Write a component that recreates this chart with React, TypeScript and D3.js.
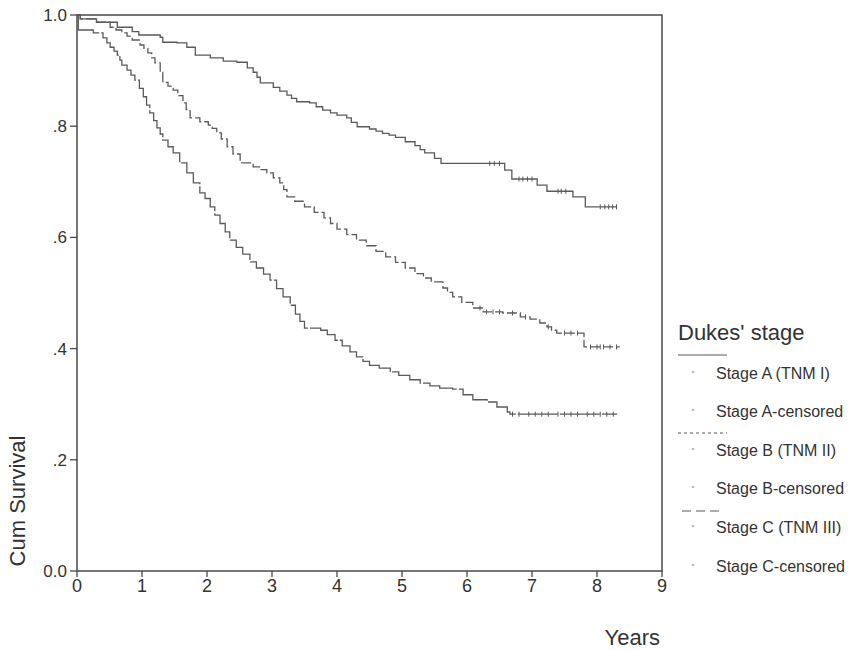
import React from "react";
import * as d3 from "d3";

// Years on the x axis, cumulative survival on the y axis
const xTicks = [0, 1, 2, 3, 4, 5, 6, 7, 8, 9];
const yTicks = [0, 0.2, 0.4, 0.6, 0.8, 1.0];
const yTickLabels = ["0.0", ".2", ".4", ".6", ".8", "1.0"];

// Step points [time, survival after the drop]
const stageA: [number, number][] = [
  [0, 1.0], [0.05, 0.993], [0.3, 0.987], [0.62, 0.978], [0.85, 0.970], [0.95, 0.964],
  [1.28, 0.960], [1.32, 0.951], [1.54, 0.950], [1.69, 0.942], [1.82, 0.928], [2.05, 0.923],
  [2.25, 0.917], [2.46, 0.915], [2.62, 0.905], [2.71, 0.897], [2.77, 0.888], [2.82, 0.878],
  [3.02, 0.870], [3.12, 0.863], [3.23, 0.856], [3.3, 0.850], [3.38, 0.844], [3.58, 0.842],
  [3.68, 0.835], [3.78, 0.829], [3.9, 0.824], [4.0, 0.820], [4.15, 0.815], [4.22, 0.807],
  [4.31, 0.799], [4.5, 0.795], [4.6, 0.791], [4.7, 0.787], [4.8, 0.784], [4.9, 0.780],
  [5.05, 0.772], [5.2, 0.765], [5.28, 0.758], [5.35, 0.752], [5.5, 0.742], [5.6, 0.733],
  [6.58, 0.721], [6.69, 0.705], [7.08, 0.694], [7.23, 0.683], [7.63, 0.673], [7.82, 0.655],
  [8.31, 0.655],
];
const stageB: [number, number][] = [
  [0, 1.0], [0.05, 0.993], [0.3, 0.987], [0.51, 0.978], [0.6, 0.973], [0.69, 0.968],
  [0.77, 0.962], [0.85, 0.955], [0.97, 0.946], [1.03, 0.940], [1.09, 0.932], [1.15, 0.923],
  [1.2, 0.914], [1.28, 0.897], [1.32, 0.879], [1.4, 0.872], [1.48, 0.865], [1.55, 0.855],
  [1.63, 0.842], [1.68, 0.830], [1.74, 0.815], [1.89, 0.808], [2.02, 0.802], [2.08, 0.796],
  [2.15, 0.788], [2.22, 0.777], [2.31, 0.763], [2.4, 0.750], [2.51, 0.734], [2.71, 0.727],
  [2.82, 0.722], [2.92, 0.716], [3.02, 0.707], [3.12, 0.698], [3.18, 0.686], [3.23, 0.673],
  [3.35, 0.665], [3.5, 0.655], [3.65, 0.645], [3.8, 0.635], [3.9, 0.625], [4.0, 0.615],
  [4.15, 0.605], [4.3, 0.595], [4.45, 0.585], [4.6, 0.575], [4.75, 0.565], [4.9, 0.555],
  [5.05, 0.545], [5.2, 0.535], [5.33, 0.527], [5.45, 0.520], [5.63, 0.509], [5.7, 0.501],
  [5.78, 0.493], [5.92, 0.483], [6.09, 0.473], [6.25, 0.466], [6.55, 0.464], [6.82, 0.457],
  [6.97, 0.453], [7.12, 0.446], [7.23, 0.439], [7.3, 0.433], [7.38, 0.428], [7.8, 0.403],
  [8.35, 0.403],
];
const stageC: [number, number][] = [
  [0, 1.0], [0.02, 0.973], [0.25, 0.968], [0.4, 0.959], [0.46, 0.950], [0.51, 0.942],
  [0.57, 0.935], [0.62, 0.928], [0.66, 0.919], [0.69, 0.910], [0.77, 0.901], [0.83, 0.892],
  [0.89, 0.883], [0.96, 0.868], [1.02, 0.853], [1.07, 0.838], [1.12, 0.824], [1.18, 0.810],
  [1.23, 0.797], [1.28, 0.786], [1.32, 0.775], [1.4, 0.763], [1.48, 0.752], [1.58, 0.734],
  [1.69, 0.716], [1.79, 0.698], [1.89, 0.680], [1.97, 0.670], [2.05, 0.655], [2.12, 0.640],
  [2.2, 0.625], [2.28, 0.610], [2.35, 0.595], [2.45, 0.582], [2.55, 0.570], [2.66, 0.556],
  [2.76, 0.545], [2.87, 0.534], [2.97, 0.523], [3.07, 0.508], [3.17, 0.493], [3.28, 0.478],
  [3.36, 0.462], [3.43, 0.449], [3.5, 0.437], [3.75, 0.433], [3.85, 0.425], [3.97, 0.415],
  [4.08, 0.405], [4.2, 0.394], [4.3, 0.385], [4.4, 0.377], [4.5, 0.370], [4.65, 0.365],
  [4.82, 0.358], [4.95, 0.352], [5.12, 0.344], [5.28, 0.338], [5.43, 0.333], [5.58, 0.329],
  [5.78, 0.327], [5.94, 0.317], [6.09, 0.308], [6.31, 0.304], [6.46, 0.295], [6.62, 0.286],
  [6.66, 0.282], [8.31, 0.282],
];

// Censoring times
const censorA = [6.35, 6.42, 6.5, 6.8, 6.86, 6.93, 7.0, 7.4, 7.45, 7.52, 8.05, 8.12, 8.18, 8.24, 8.3];
const censorB = [6.2, 6.3, 6.4, 6.5, 6.7, 6.9, 7.25, 7.5, 7.6, 7.7, 7.9, 8.0, 8.05, 8.1, 8.2, 8.3];
const censorC = [6.7, 6.8, 6.95, 7.05, 7.15, 7.25, 7.4, 7.5, 7.6, 7.7, 7.85, 7.95, 8.05, 8.15, 8.25];

const legendItems = [
  "Stage A (TNM I)",
  "Stage A-censored",
  "Stage B (TNM II)",
  "Stage B-censored",
  "Stage C (TNM III)",
  "Stage C-censored",
];

const W = 854;
const H = 650;
const L = 77, R = 662, T = 15, B = 571;
const FONT = "'Liberation Sans', Arial, sans-serif";
const AX = "#4a4a4a";
const LINE = "#5a5a5a";

export default function App() {
  const x = d3.scaleLinear().domain([0, 9]).range([L, R]);
  const y = d3.scaleLinear().domain([0, 1]).range([B, T]);
  const line = d3
    .line<[number, number]>()
    .x((d) => x(d[0]))
    .y((d) => y(d[1]))
    .curve(d3.curveStepAfter);

  const valueAt = (pts: [number, number][], t: number) => {
    let v = 1;
    for (const p of pts) if (p[0] <= t) v = p[1];
    return v;
  };

  const series = [
    { pts: stageA, cens: censorA, dash: undefined as string | undefined },
    { pts: stageB, cens: censorB, dash: "10,3" },
    { pts: stageC, cens: censorC, dash: "40,2" },
  ];

  const legendY = [373, 411, 450, 488, 527, 566];

  return (
    <svg width={W} height={H} style={{ display: "block", position: "absolute", left: 0, top: 0, background: "#fff" }}>
      <rect x={0} y={0} width={W} height={H} fill="#fff" />
      {/* frame */}
      <rect x={L} y={T} width={R - L} height={B - T} fill="none" stroke={AX} strokeWidth={1.5} />
      {/* y ticks */}
      {yTicks.map((v, i) => (
        <g key={"y" + i}>
          <line x1={L - 7} x2={L} y1={y(v)} y2={y(v)} stroke={AX} strokeWidth={1.3} />
          <text x={L - 10} y={y(v)} dy="0.35em" textAnchor="end" fontSize={17} fontFamily={FONT} fill="#333">
            {yTickLabels[i]}
          </text>
        </g>
      ))}
      {/* x ticks */}
      {xTicks.map((v) => (
        <g key={"x" + v}>
          <line x1={x(v)} x2={x(v)} y1={B} y2={B + 6} stroke={AX} strokeWidth={1.3} />
          <text x={x(v)} y={B + 21} textAnchor="middle" fontSize={18} fontFamily={FONT} fill="#333">
            {v}
          </text>
        </g>
      ))}
      {/* curves */}
      {series.map((s, i) => (
        <g key={"s" + i}>
          <path d={line(s.pts) || ""} fill="none" stroke={LINE} strokeWidth={1.3} strokeDasharray={s.dash} />
          {s.cens.map((t, j) => (
            <line
              key={j}
              x1={x(t)}
              x2={x(t)}
              y1={y(valueAt(s.pts, t)) - 2.5}
              y2={y(valueAt(s.pts, t)) + 2.5}
              stroke={LINE}
              strokeWidth={1}
            />
          ))}
        </g>
      ))}
      {/* axis titles */}
      <text
        transform={`translate(25,${501}) rotate(-90)`}
        textAnchor="middle"
        fontSize={22}
        fontFamily={FONT}
        fill="#333"
      >
        Cum Survival
      </text>
      <text x={660} y={645} textAnchor="end" fontSize={22} fontFamily={FONT} fill="#333">
        Years
      </text>
      {/* legend */}
      <text x={678} y={340} fontSize={22} fontFamily={FONT} fill="#333">
        Dukes' stage
      </text>
      <line x1={678} x2={727} y1={355} y2={355} stroke={LINE} strokeWidth={1.2} />
      <line x1={678} x2={727} y1={433} y2={433} stroke={LINE} strokeWidth={1.2} strokeDasharray="3,3" />
      <line x1={682} x2={722} y1={511} y2={511} stroke={LINE} strokeWidth={1.2} strokeDasharray="9,5" />
      {legendItems.map((name, i) => (
        <g key={name}>
          <circle cx={693} cy={legendY[i] - 1} r={1.3} fill="#bbb" />
          <text x={716} y={legendY[i]} dy="0.35em" fontSize={16} fontFamily={FONT} fill="#333">
            {name}
          </text>
        </g>
      ))}
    </svg>
  );
}
